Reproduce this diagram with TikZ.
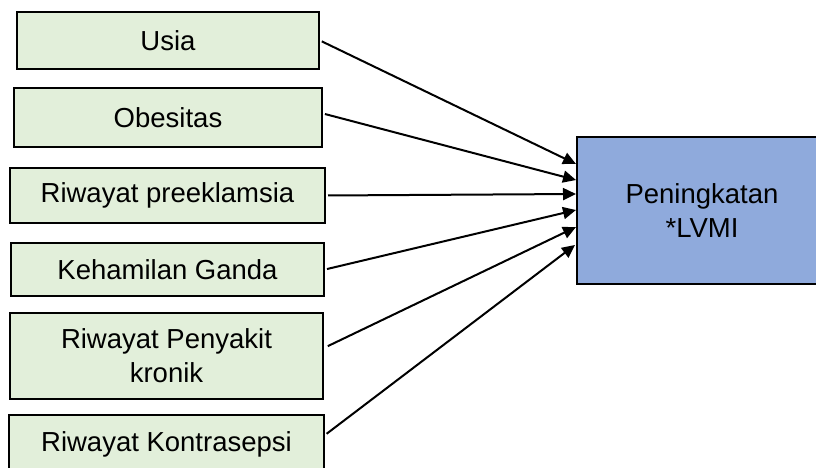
\documentclass[tikz,border=0pt]{standalone}
\usepackage{fontspec}
\setmainfont{Liberation Sans}
\usetikzlibrary{arrows.meta}
\definecolor{boxgreen}{RGB}{226,239,218}
\definecolor{boxblue}{RGB}{143,170,220}
\begin{document}
\begin{tikzpicture}[x=1pt,y=-1pt,
  factor/.style={draw=black, line width=2pt, fill=boxgreen, inner sep=0pt, align=center,
    font=\fontsize{27.5}{34}\selectfont},
  outcome/.style={draw=black, line width=2pt, fill=boxblue, inner sep=0pt, align=center,
    font=\fontsize{27.5}{34}\selectfont},
  conn/.style={draw=black, line width=2pt, -{Triangle[length=13pt,width=12pt]}, shorten <=2pt}]
\useasboundingbox (0,0) rectangle (816,468);
\clip (0,0) rectangle (816,468);
\node[factor, minimum width=302pt, minimum height=57pt] (usia) at (168,40.5) {Usia};
\node[factor, minimum width=308pt, minimum height=59pt] (obes) at (168,117.5) {Obesitas};
\node[factor, minimum width=315pt, minimum height=55pt] (pree) at (167.5,195.5) {Riwayat preeklamsia};
\node[factor, minimum width=313pt, minimum height=53pt] (ganda) at (167.5,269.5) {Kehamilan Ganda};
\node[factor, minimum width=313pt, minimum height=86pt] (kronik) at (166.5,356) {Riwayat Penyakit\\kronik};
\node[factor, minimum width=315pt, minimum height=58pt] (kontra) at (166.5,444) {Riwayat Kontrasepsi};
\node[outcome, minimum width=250pt, minimum height=147pt] (lvmi) at (702,210.5) {Peningkatan\\*LVMI};
\coordinate (t1) at (576,164);
\coordinate (t2) at (576,180);
\coordinate (t3) at (576,194);
\coordinate (t4) at (576,210);
\coordinate (t5) at (576,227);
\coordinate (t6) at (575,245);
\draw[conn] (usia.east) -- (t1);
\draw[conn] (obes.east) ++(0,-4) -- (t2);
\draw[conn] (pree.east) -- (t3);
\draw[conn] (ganda.east) -- (t4);
\draw[conn] (kronik.east) ++(2,-9) -- (t5);
\draw[conn] (kontra.east) ++(0,-9) -- (t6);
\end{tikzpicture}
\end{document}
